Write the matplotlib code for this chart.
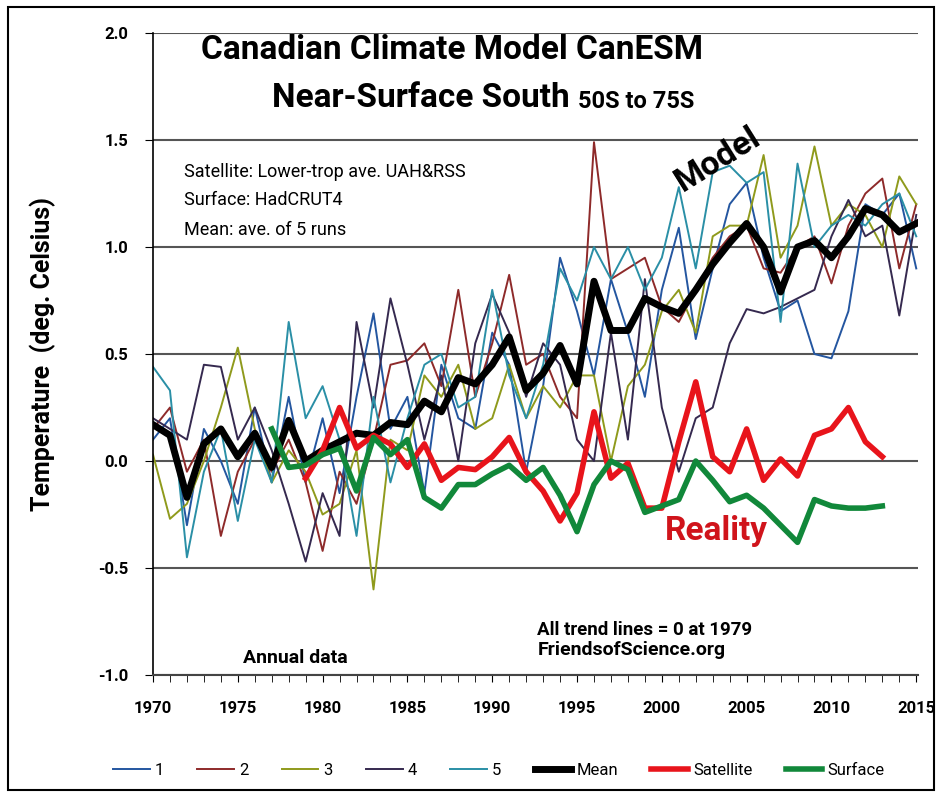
import matplotlib
matplotlib.use('Agg')
import matplotlib.pyplot as plt
from matplotlib.patches import Rectangle

plt.rcParams['font.family'] = ['Roboto', 'DejaVu Sans']

# years for the model runs
years = list(range(1970, 2016))

# 5 model runs (rough)
run1 = [0.10, 0.20, -0.30, 0.15, 0.00, -0.20, 0.25, -0.10, 0.30, -0.10,
        0.20, -0.15, 0.30, 0.69, 0.15, 0.30, -0.15, 0.45, 0.20, 0.15,
        0.60, 0.45, -0.05, 0.35, 0.95, 0.70, 0.40, 0.85, 0.60, 0.30,
        0.80, 1.09, 0.57, 0.90, 1.20, 1.30, 0.95, 0.70, 0.75, 0.50,
        0.48, 0.70, 1.20, 1.15, 1.25, 0.90]
run2 = [0.15, 0.25, -0.05, 0.10, -0.35, -0.05, 0.10, -0.05, 0.10, -0.10,
        -0.42, -0.05, -0.20, 0.10, 0.45, 0.47, 0.55, 0.35, 0.80, 0.30,
        0.55, 0.87, 0.45, 0.50, 0.30, 0.20, 1.49, 0.85, 0.90, 0.95,
        0.72, 0.65, 0.80, 0.95, 1.05, 1.10, 0.90, 0.88, 1.00, 1.05,
        0.83, 1.10, 1.25, 1.32, 0.90, 1.20]
run3 = [0.03, -0.27, -0.20, 0.00, 0.25, 0.53, 0.15, -0.10, 0.05, -0.05,
        -0.25, -0.20, 0.05, -0.60, 0.10, 0.05, 0.40, 0.30, 0.45, 0.15,
        0.20, 0.45, 0.20, 0.35, 0.25, 0.40, 0.40, 0.00, 0.35, 0.45,
        0.70, 0.80, 0.60, 1.05, 1.10, 1.10, 1.43, 0.95, 1.10, 1.47,
        1.10, 1.20, 1.15, 1.00, 1.33, 1.20]
run4 = [0.20, 0.15, 0.10, 0.45, 0.44, 0.10, 0.25, 0.05, -0.20, -0.47,
        -0.15, -0.35, 0.65, 0.25, 0.76, 0.45, 0.10, 0.40, 0.00, 0.55,
        0.78, 0.60, 0.30, 0.55, 0.45, 0.10, 0.00, 0.60, 0.10, 0.85,
        0.25, -0.05, 0.20, 0.25, 0.55, 0.71, 0.69, 0.72, 0.76, 0.80,
        1.05, 1.22, 1.05, 1.10, 0.68, 1.15]
run5 = [0.44, 0.33, -0.45, -0.05, 0.15, -0.28, 0.10, -0.10, 0.65, 0.20,
        0.35, 0.10, -0.35, 0.30, -0.10, 0.20, 0.45, 0.50, 0.25, 0.30,
        0.80, 0.40, 0.20, 0.45, 0.90, 0.75, 1.00, 0.85, 1.00, 0.80,
        0.95, 1.28, 0.90, 1.35, 1.38, 1.30, 1.35, 0.65, 1.39, 1.00,
        1.10, 1.15, 1.10, 1.20, 1.25, 1.05]
mean = [0.17, 0.12, -0.17, 0.08, 0.15, 0.02, 0.13, -0.03, 0.19, 0.00,
        0.05, 0.09, 0.13, 0.12, 0.18, 0.17, 0.28, 0.23, 0.39, 0.36,
        0.45, 0.58, 0.33, 0.41, 0.54, 0.36, 0.84, 0.61, 0.61, 0.76,
        0.72, 0.69, 0.80, 0.92, 1.02, 1.11, 1.00, 0.79, 1.00, 1.03,
        0.95, 1.05, 1.18, 1.15, 1.07, 1.11]

# observations
sat_years = list(range(1979, 2014))
satellite = [-0.08, 0.05, 0.25, 0.06, 0.12, 0.08, -0.03, 0.08, -0.09, -0.03,
             -0.04, 0.02, 0.11, -0.05, -0.14, -0.28, -0.15, 0.23, -0.08, -0.01,
             -0.22, -0.22, 0.09, 0.37, 0.02, -0.05, 0.15, -0.09, 0.01, -0.07,
             0.12, 0.15, 0.25, 0.09, 0.02]
sfc_years = list(range(1977, 2014))
surface = [0.15, -0.03, -0.02, 0.03, 0.06, -0.14, 0.11, 0.03, 0.10, -0.17,
           -0.22, -0.11, -0.11, -0.06, -0.02, -0.09, -0.03, -0.16, -0.33, -0.11,
           0.00, -0.04, -0.24, -0.21, -0.18, 0.00, -0.09, -0.19, -0.16, -0.22,
           -0.30, -0.38, -0.18, -0.21, -0.22, -0.22, -0.21]

fig = plt.figure(figsize=(9.41, 7.98), dpi=100)
ax = fig.add_axes([0.1626, 0.1541, 0.8129, 0.8045])

ax.plot(years, run1, color='#2456a0', lw=1.4, label='1')
ax.plot(years, run2, color='#8e2a2a', lw=1.4, label='2')
ax.plot(years, run3, color='#8f9a1c', lw=1.4, label='3')
ax.plot(years, run4, color='#35294f', lw=1.4, label='4')
ax.plot(years, run5, color='#2a8fa6', lw=1.4, label='5')
ax.plot(years, mean, color='black', lw=5, label='Mean')
ax.plot(sat_years, satellite, color='#e8141b', lw=4, label='Satellite')
ax.plot(sfc_years, surface, color='#11883a', lw=4, label='Surface')

ax.set_xlim(1970, 2015.1)
ax.set_ylim(-1.0, 2.0)
ax.set_yticks([-1.0, -0.5, 0.0, 0.5, 1.0, 1.5, 2.0])
ax.set_yticklabels(['-1.0', '-0.5', '0.0', '0.5', '1.0', '1.5', '2.0'],
                   fontsize=12, fontweight='bold')
ax.set_xticks(range(1970, 2016, 5))
ax.set_xticklabels([str(y) for y in range(1970, 2016, 5)], fontsize=12, fontweight='bold')
ax.set_xticks(range(1970, 2016), minor=True)
ax.tick_params(axis='x', which='both', direction='out', length=5, pad=14)
ax.tick_params(axis='y', direction='out', length=6, pad=12)
ax.grid(axis='y', color='#555555', lw=1.5)
ax.set_axisbelow(True)
for s in ['top', 'right']:
    ax.spines[s].set_visible(False)
ax.spines['left'].set_linewidth(1.2)
ax.spines['bottom'].set_linewidth(1.5)
ax.spines['bottom'].set_color('#444444')

ax.set_ylabel('Temperature  (deg. Celsius)', fontsize=18, fontweight='bold', labelpad=30)

# title
fig.text(0.48, 0.937, 'Canadian Climate Model CanESM', ha='center', va='center',
         fontsize=24, fontweight='bold')
fig.text(0.606, 0.877, 'Near-Surface South', ha='right', va='center',
         fontsize=24, fontweight='bold')
fig.text(0.614, 0.873, '50S to 75S', ha='left', va='center',
         fontsize=17, fontweight='bold')

fig.text(0.196, 0.785, 'Satellite: Lower-trop ave. UAH&RSS', fontsize=13, va='center')
fig.text(0.196, 0.749, 'Surface: HadCRUT4', fontsize=13, va='center')
fig.text(0.196, 0.712, 'Mean: ave. of 5 runs', fontsize=13, va='center')

fig.text(0.763, 0.8, 'Model', fontsize=24, fontweight='bold', rotation=32,
         ha='center', va='center')
fig.text(0.761, 0.335, 'Reality', fontsize=24, fontweight='bold', color='#d0141b',
         ha='center', va='center')
fig.text(0.571, 0.21, 'All trend lines = 0 at 1979', fontsize=13.5, fontweight='bold', va='center')
fig.text(0.571, 0.185, 'FriendsofScience.org', fontsize=14, fontweight='bold', va='center')
fig.text(0.258, 0.175, 'Annual data', fontsize=14, fontweight='bold', va='center')

fig.legend(loc='center', bbox_to_anchor=(0.53, 0.035), ncol=8, frameon=False,
           fontsize=12, handlelength=2.2, columnspacing=2.0, handletextpad=0.3)

# outer border
fig.patches.append(Rectangle((0.009, 0.01), 0.984, 0.981, transform=fig.transFigure,
                             fill=False, edgecolor='black', lw=1.5))

plt.savefig('out.png', dpi=100)
